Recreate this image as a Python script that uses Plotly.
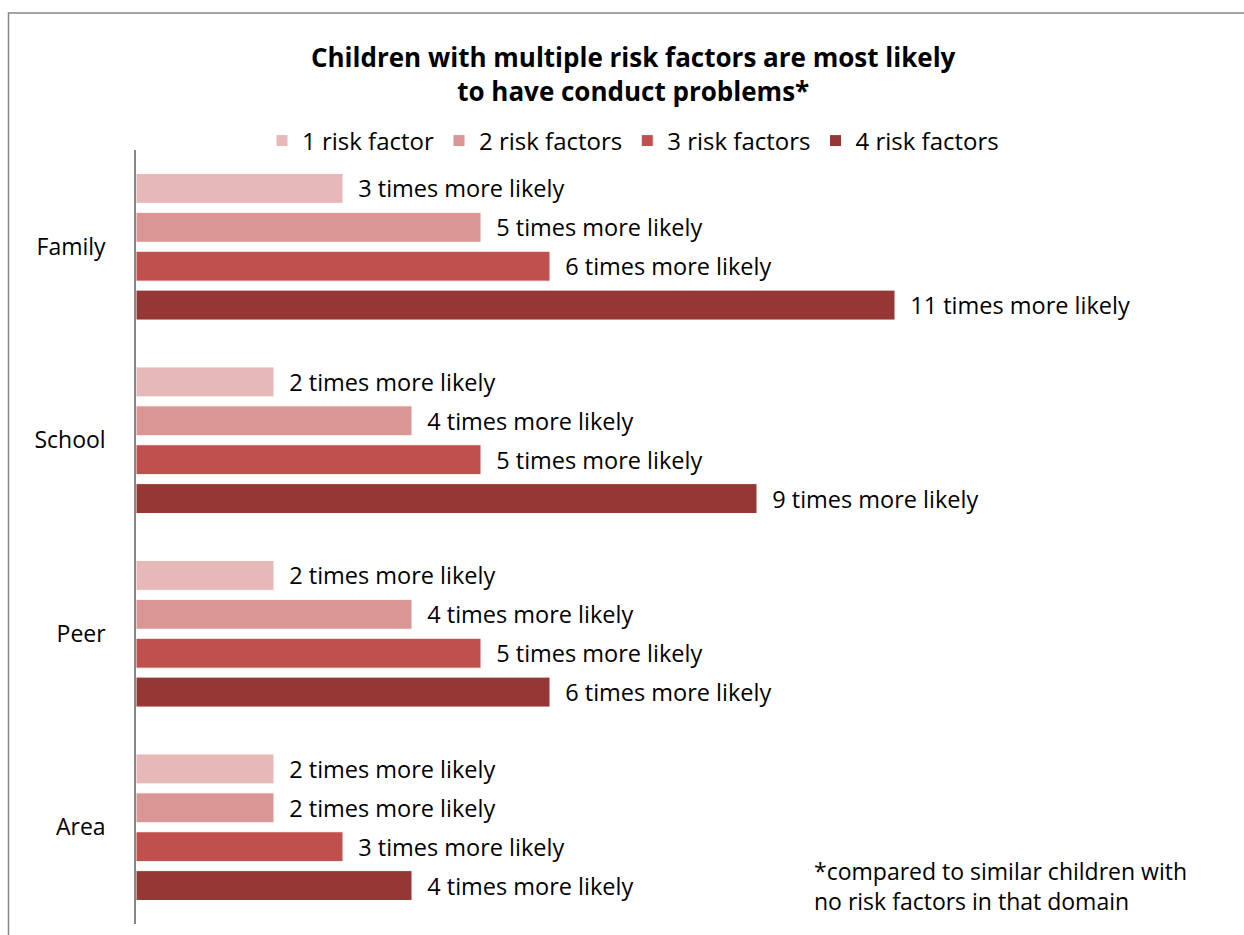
import plotly.graph_objects as go

# Domains (top to bottom) and how many times more likely conduct problems are
domains = ["Family", "School", "Peer", "Area"]
series_names = ["1 risk factor", "2 risk factors", "3 risk factors", "4 risk factors"]
one_risk = [3, 2, 2, 2]
two_risk = [5, 4, 4, 2]
three_risk = [6, 5, 5, 3]
four_risk = [11, 9, 6, 4]
series_values = [one_risk, two_risk, three_risk, four_risk]
colors = ["#E6B9B8", "#D99694", "#C0504D", "#953735"]

title_text = "Children with multiple risk factors are most likely<br>to have conduct problems*"
footnote_text = "*compared to similar children with<br>no risk factors in that domain"

FONT = "'Open Sans', sans-serif"
FS = 23
W, H = 1244, 935
ML, MR, MT, MB = 136, 73, 150, 11

fig = go.Figure()
for name, vals, col in zip(series_names, series_values, colors):
    fig.add_trace(go.Bar(
        name=name,
        y=domains,
        x=vals,
        orientation="h",
        marker=dict(color=col, line=dict(color="white", width=1)),
        text=[f"  {v} times more likely" for v in vals],
        textposition="outside",
        constraintext="none",
        textfont=dict(family=FONT, size=23.5, color="black"),
        cliponaxis=False,
        hoverinfo="skip",
    ))

# outer frame of the chart area (open on the right and bottom edges of the page)
pw = W - ML - MR
ph = H - MT - MB
def px_to_paper_x(px):
    return (px - ML) / pw
def px_to_paper_y(py):
    return (H - MB - py) / ph

fig.add_shape(type="rect", xref="paper", yref="paper",
              x0=px_to_paper_x(8.5), x1=px_to_paper_x(W + 20),
              y0=px_to_paper_y(H + 20), y1=px_to_paper_y(13),
              line=dict(color="#868686", width=1.5), fillcolor="rgba(0,0,0,0)", layer="below")

fig.add_annotation(text=footnote_text, xref="paper", yref="paper",
                   x=px_to_paper_x(812), y=px_to_paper_y(886),
                   xanchor="left", yanchor="middle", align="left", showarrow=False,
                   font=dict(family=FONT, size=FS, color="black"))

fig.update_layout(
    width=W, height=H,
    margin=dict(l=ML, r=MR, t=MT, b=MB),
    paper_bgcolor="white", plot_bgcolor="white",
    barmode="group", bargap=0.196, bargroupgap=0.23,
    title=dict(text=f"<b>{title_text}</b>", x=0.509, xanchor="center",
               y=1 - 67 / H, yanchor="middle",
               font=dict(family=FONT, size=26, color="black")),
    legend=dict(orientation="h", x=px_to_paper_x(633), xanchor="center",
                y=px_to_paper_y(141), yanchor="middle",
                font=dict(family=FONT, size=24, color="black"), traceorder="normal",
                bgcolor="rgba(0,0,0,0)"),
    showlegend=True,
    xaxis=dict(range=[0, 15], showgrid=False, zeroline=False, showticklabels=False,
               showline=False, fixedrange=True),
    yaxis=dict(autorange="reversed", showgrid=False, zeroline=False,
               showline=True, linecolor="#868686", linewidth=1.5,
               ticks="", ticklabelstandoff=24,
               tickfont=dict(family=FONT, size=FS, color="black")),
)

fig.write_html("out.html")
